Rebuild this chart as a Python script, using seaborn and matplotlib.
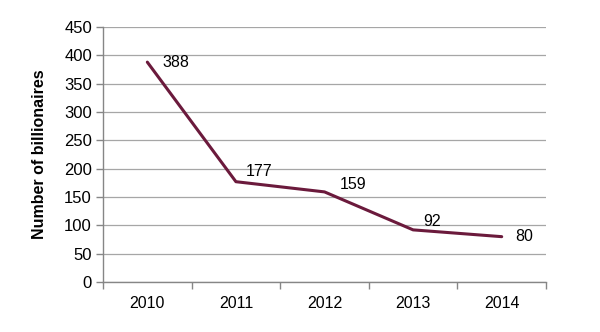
import matplotlib
matplotlib.use("Agg")
import matplotlib.pyplot as plt
import seaborn as sns
import pandas as pd

years = ["2010", "2011", "2012", "2013", "2014"]
billionaires = [388, 177, 159, 92, 80]
y_ticks = [0, 50, 100, 150, 200, 250, 300, 350, 400, 450]

sns.set_theme(style="white")
plt.rcParams["font.family"] = ["Liberation Sans", "DejaVu Sans"]

df = pd.DataFrame({"year": years, "count": billionaires})

fig = plt.figure(figsize=(6, 3.32), dpi=100)
ax = fig.add_axes([0.1717, 0.1506, 0.7383, 0.7681])

sns.lineplot(data=df, x="year", y="count", ax=ax, color="#6B1A3C",
             linewidth=2.2, sort=False)

ax.set_xlim(-0.5, len(years) - 0.5)
ax.set_ylim(0, 450)
ax.set_yticks(y_ticks)
ax.yaxis.grid(True, color="#A6A6A6", linewidth=0.9)
ax.set_axisbelow(True)

for s in ["top", "right"]:
    ax.spines[s].set_visible(False)
for s in ["left", "bottom"]:
    ax.spines[s].set_color("#868686")
    ax.spines[s].set_linewidth(1.0)

ax.set_xticks([i - 0.5 for i in range(len(years) + 1)], minor=False)
ax.set_xticklabels([])
ax.set_xticks(range(len(years)), minor=True)
ax.set_xticklabels(years, minor=True)
ax.tick_params(axis="x", which="major", length=5, color="#868686", width=1, direction="out", bottom=True)
ax.tick_params(axis="x", which="minor", length=0, labelsize=11.5, pad=10, labelcolor="black")
ax.tick_params(axis="y", length=5, color="#868686", width=1, direction="out", left=True,
               labelsize=12, labelcolor="black", pad=3)

ax.set_xlabel("")
ax.set_ylabel("Number of billionaires", fontsize=11.5, fontweight="bold", labelpad=12, color="black")

offsets = [(11, 0), (7, 7), (11, 5), (7, 6), (10, 0)]
for i, (v, off) in enumerate(zip(billionaires, offsets)):
    ax.annotate(str(v), (i, v), xytext=off, textcoords="offset points",
                ha="left", va="center", fontsize=11.5, color="black")

fig.savefig("out.png", dpi=100)
